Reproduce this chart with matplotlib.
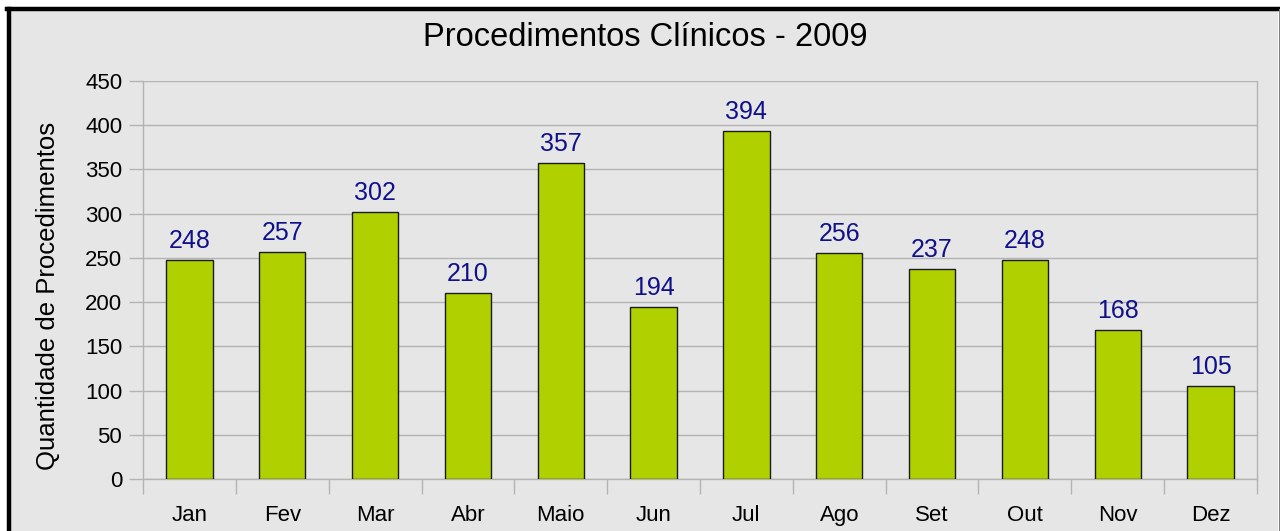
import matplotlib
matplotlib.use("Agg")
import matplotlib.pyplot as plt
from matplotlib.patches import Rectangle
from matplotlib.lines import Line2D
import numpy as np

months = ["Jan", "Fev", "Mar", "Abr", "Maio", "Jun", "Jul", "Ago", "Set", "Out", "Nov", "Dez"]
values = [248, 257, 302, 210, 357, 194, 394, 256, 237, 248, 168, 105]
yticks = [0, 50, 100, 150, 200, 250, 300, 350, 400, 450]
title = "Procedimentos Clínicos - 2009"
ylabel = "Quantidade de Procedimentos"

plt.rcParams['font.family'] = ['Liberation Sans', 'DejaVu Sans']

W, H = 1280, 531
fig = plt.figure(figsize=(W / 100, H / 100), dpi=100, facecolor='white')

bg = '#e6e6e6'
fig.add_artist(Rectangle((9 / W, 0), (1278 - 9) / W, (H - 9) / H, transform=fig.transFigure,
                         facecolor=bg, edgecolor='none', zorder=-10))
# black border top and left, thin gray right
fig.add_artist(Line2D([9 / W, 9 / W], [0, (H - 9) / H], transform=fig.transFigure, color='black', lw=3.2))
fig.add_artist(Line2D([7 / W, 1279 / W], [(H - 9) / H, (H - 9) / H], transform=fig.transFigure, color='black', lw=3.2))
fig.add_artist(Line2D([1278.5 / W, 1278.5 / W], [0, (H - 9) / H], transform=fig.transFigure, color='#808080', lw=0.8))

ax = fig.add_axes([143 / W, (H - 479) / H, (1257 - 143) / W, (479 - 81) / H])
ax.set_facecolor(bg)

x = np.arange(len(months))
ax.bar(x, values, width=0.5, color='#b0d000', edgecolor='#1a1a1a', linewidth=1.0, zorder=3)
for xi, v in zip(x, values):
    ax.annotate(str(v), (xi, v), xytext=(0, 5), textcoords='offset points',
                ha='center', va='bottom', fontsize=18, color='#10108a', zorder=4)

ax.set_xlim(-0.5, len(months) - 0.5)
ax.set_ylim(0, 450)
ax.set_yticks(yticks)
ax.set_yticklabels([str(t) for t in yticks], fontsize=16)
ax.set_xticks(x)
ax.set_xticklabels(months, fontsize=16)
ax.set_xticks(np.arange(len(months) + 1) - 0.5, minor=True)
ax.tick_params(axis='x', which='major', length=0, pad=19)
ax.tick_params(axis='x', which='minor', length=11, color='#b3b3b3', width=1)
ax.tick_params(axis='y', length=10, color='#b3b3b3', width=1, pad=5)
ax.grid(axis='y', color='#b3b3b3', linewidth=1, zorder=0)
for s in ax.spines.values():
    s.set_color('#b3b3b3')
    s.set_linewidth(1)
ax.spines['top'].set_visible(False)

ax.set_ylabel(ylabel, fontsize=18.5)
ax.yaxis.set_label_coords(60 / W, 1 - 296 / H, transform=fig.transFigure)
fig.text(645 / W, 1 - 37 / H, title, ha='center', va='center', fontsize=23.5)

fig.savefig("out.png", dpi=100, facecolor='white')
